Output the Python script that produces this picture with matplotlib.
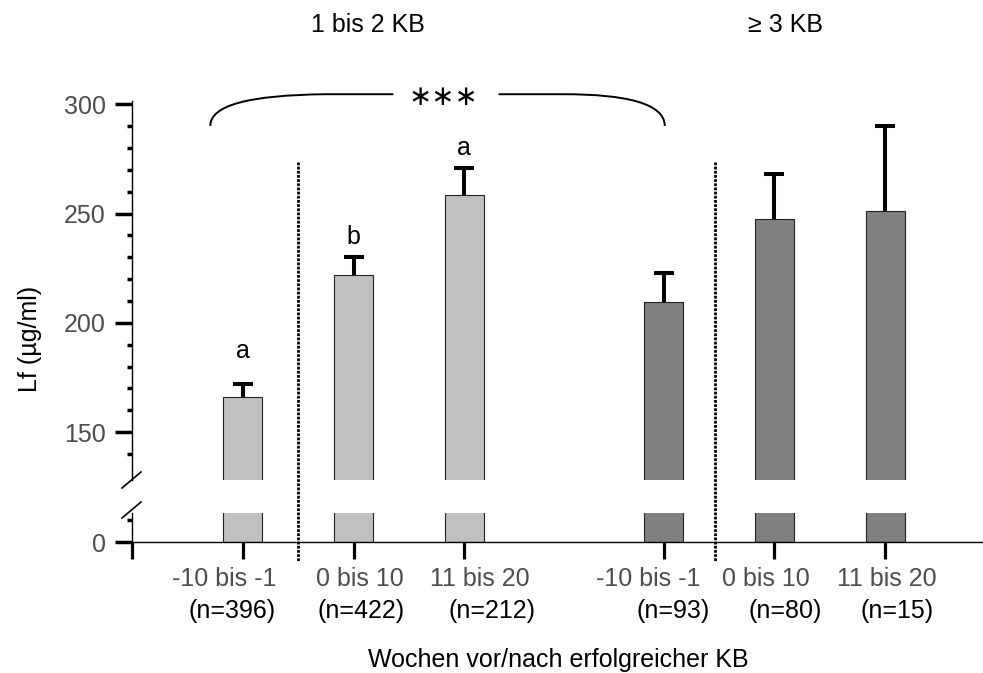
import matplotlib

matplotlib.use("Agg")
import matplotlib.pyplot as plt
from matplotlib.lines import Line2D
from matplotlib.patches import PathPatch
from matplotlib.path import Path
from matplotlib.transforms import blended_transform_factory
import numpy as np


# values
week_labels = ["-10 bis -1", "0 bis 10", "11 bis 20", "-10 bis -1", "0 bis 10", "11 bis 20"]
n_labels = ["(n=396)", "(n=422)", "(n=212)", "(n=93)", "(n=80)", "(n=15)"]
lf_mean = [166, 222, 258.3, 209.5, 247.3, 251]
lf_sem = [6, 8, 12.5, 13.5, 20.8, 39]
letters = ["a", "b", "a", "", "", ""]
letter_y = [184, 236.3, 276.7, None, None, None]
group_titles = ["1 bis 2 KB", "≥ 3 KB"]
signif = "∗∗∗"

# layout
bar_x = np.array([1, 2, 3, 4.8, 5.8, 6.8])
bar_colors = ["#c0c0c0"] * 3 + ["#808080"] * 3
label1_x = [0.833, 2.061, 3.144, 4.660, 5.725, 6.817]
label2_x = [0.905, 2.065, 3.252, 4.886, 5.898, 6.907]
divider_x = [1.5, 5.26]
W, H = 983, 673
FONT = ["Liberation Sans", "DejaVu Sans"]
GREY = "#4d4d4d"

plt.rcParams["font.family"] = FONT

fig = plt.figure(figsize=(W / 100, H / 100), dpi=100)
left = 132 / W
ax_top = fig.add_axes([left, 1 - 480 / H, 1 - left, (480 - 101) / H])
ax_bot = fig.add_axes([left, 1 - 542 / H, 1 - left, (542 - 513) / H])

for ax in (ax_top, ax_bot):
    ax.bar(bar_x, lf_mean, width=0.35, color=bar_colors, edgecolor="#222222", linewidth=0.8, zorder=2)
    ax.set_xlim(0, (W - 131.7) / 110.8)
    ax.spines["top"].set_visible(False)
    ax.spines["right"].set_visible(False)
    ax.spines["left"].set_linewidth(1.0)
    ax.spines["bottom"].set_linewidth(1.0)
    ax.patch.set_alpha(0)

# error bars (upper only)
tops = np.array(lf_mean) + np.array(lf_sem)
ax_top.vlines(bar_x, lf_mean, tops, color="black", linewidth=2.9, zorder=3)
ax_top.plot(bar_x, tops, linestyle="none", marker="_", markersize=15, markeredgewidth=2.9,
            color="black", zorder=3, clip_on=False)

# upper segment
ax_top.set_ylim(128.1, 301.5)
ax_top.spines["bottom"].set_visible(False)
ax_top.set_xticks([])
ax_top.set_yticks([150, 200, 250, 300])
ax_top.set_yticks(np.arange(140, 300, 10), minor=True)
ax_top.tick_params(axis="y", which="major", length=12, width=2.5, labelsize=18,
                   labelcolor=GREY, pad=7)
ax_top.tick_params(axis="y", which="minor", length=3.6, width=2.5)

# lower segment
ax_bot.set_ylim(0, 13.2)
ax_bot.set_yticks([0])
ax_bot.set_yticks([10], minor=True)
ax_bot.tick_params(axis="y", which="major", length=12, width=2.5, labelsize=18,
                   labelcolor=GREY, pad=7)
ax_bot.tick_params(axis="y", which="minor", length=3.6, width=2.5)
ax_bot.set_xticks(np.concatenate([[0], bar_x]))
ax_bot.set_xticklabels([])
ax_bot.tick_params(axis="x", length=12, width=2.3)

# category labels
tr = blended_transform_factory(ax_bot.transData, fig.transFigure)
for x1, x2, wk, n in zip(label1_x, label2_x, week_labels, n_labels):
    ax_bot.text(x1, 1 - 579 / H, wk, transform=tr, ha="center", va="center",
                fontsize=18, color=GREY)
    ax_bot.text(x2, 1 - 611 / H, n, transform=tr, ha="center", va="center",
                fontsize=18, color="black")

# letters above bars
for x, lt, ly in zip(bar_x, letters, letter_y):
    if lt:
        ax_top.text(x, ly, lt, ha="center", va="baseline", fontsize=18)

# dotted dividers spanning both segments
trd = blended_transform_factory(ax_top.transData, fig.transFigure)
for dx in divider_x:
    fig.add_artist(Line2D([dx, dx], [1 - 162 / H, 1 - 561 / H], transform=trd,
                          color="black", linestyle=(0, (1, 0.5)), linewidth=2.0))

# axis break marks
for yc in (480, 510):
    fig.add_artist(Line2D([122 / W, 141 / W], [1 - (yc + 8) / H, 1 - (yc - 8) / H],
                          transform=fig.transFigure, color="black", linewidth=1.2))

# bracket with significance
verts = [(0.707, 290.1), (0.707, 299.5), (1.05, 304.2), (1.75, 304.6),
         (2.36, 304.6),
         (3.31, 304.6), (3.9, 304.6),
         (4.45, 304.6), (4.81, 300.5), (4.81, 290.1)]
codes = [Path.MOVETO, Path.CURVE4, Path.CURVE4, Path.CURVE4,
         Path.LINETO,
         Path.MOVETO, Path.LINETO,
         Path.CURVE4, Path.CURVE4, Path.CURVE4]
ax_top.add_patch(PathPatch(Path(verts, codes), facecolor="none", edgecolor="black",
                           linewidth=1.4, clip_on=False))
ax_top.text(2.81, 303.5, signif, ha="center", va="center", fontsize=20,
            family=["DejaVu Sans"])

# titles and axis labels
fig.text(368 / W, 1 - 25 / H, group_titles[0], ha="center", va="center", fontsize=18)
fig.text(785 / W, 1 - 25 / H, group_titles[1], ha="center", va="center", fontsize=18)
fig.text(558 / W, 1 - 660 / H, "Wochen vor/nach erfolgreicher KB", ha="center",
         va="center", fontsize=18)
fig.text(30 / W, 1 - 339 / H, "Lf (µg/ml)", ha="center", va="center", rotation=90,
         fontsize=18)

fig.savefig("out.png", dpi=100)
